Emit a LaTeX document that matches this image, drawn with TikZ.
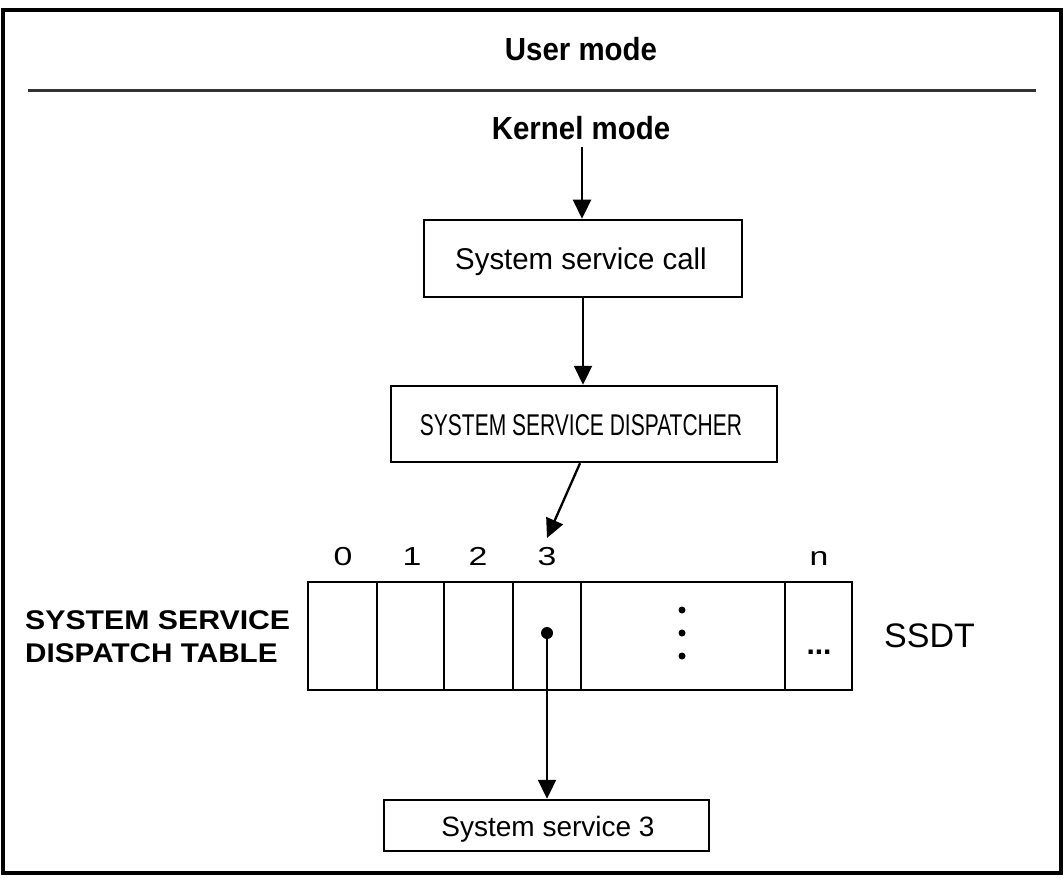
\documentclass[tikz,border=0pt]{standalone}
\usepackage{fontspec}
\usepackage{graphicx}
\setmainfont{Liberation Sans}
\usetikzlibrary{arrows.meta,calc}
\newcommand{\stretchtxt}[2]{\scalebox{#1}[1]{#2}}
\begin{document}
\begin{tikzpicture}[x=1pt,y=-1pt,
  box/.style={draw,line width=2.5pt,inner sep=0pt},
  conn/.style={line width=2.3pt,-{Triangle[length=19pt,width=18pt]}},
  lbl/.style={anchor=base,inner sep=0pt},
]
\useasboundingbox (0,0) rectangle (1064,877);
\fill[white] (0,0) rectangle (1064,877);
% outer frame
\draw[line width=4pt] (3,10) rectangle (1061,873);
% separator
\draw[line width=3pt,black!80] (28,91) -- (1036,91);

% titles
\node[lbl,font=\fontsize{32}{34}\selectfont\bfseries] (user) at (581,61) {\stretchtxt{0.92}{User mode}};
\node[lbl,font=\fontsize{32}{34}\selectfont\bfseries] (kernel) at (581,140) {\stretchtxt{0.92}{Kernel mode}};

% boxes
\node[box,minimum width=318pt,minimum height=77pt] (call) at (583,258.5) {};
\node[lbl,font=\fontsize{30}{32}\selectfont] (calltxt) at (581,269) {\stretchtxt{0.98}{System service call}};

\node[box,minimum width=386pt,minimum height=76pt] (disp) at (584,424) {};
\node[lbl,font=\fontsize{30}{32}\selectfont] (disptxt) at (581,435) {\stretchtxt{0.7}{SYSTEM SERVICE DISPATCHER}};

\node[box,minimum width=325pt,minimum height=51pt] (svc) at (546.5,825.5) {};
\node[lbl,font=\fontsize{28}{30}\selectfont] (svctxt) at (548,836) {System service 3};

% table
\draw[line width=2.5pt] (308,582) rectangle (852,690);
\foreach \xx in {377,444,513,581,785} \draw[line width=2.5pt] (\xx,582) -- (\xx,690);

% indices
\foreach \xx/\tt/\nm in {343/0/i0,412/1/i1,478/2/i2,547/3/i3,819/n/in}
  \node[lbl,font=\fontsize{26}{28}\selectfont] (\nm) at (\xx,565) {\stretchtxt{1.3}{\tt}};

% dots inside table
\foreach \yy in {610,633,656} \fill (682,\yy) circle (3.5pt);
\node[lbl,font=\fontsize{30}{32}\selectfont\bfseries] (ell) at (819,654) {...};
\node[circle,fill,inner sep=0pt,minimum size=12pt] (ptr) at (547,633) {};

% side labels
\node[lbl,anchor=base west,font=\fontsize{27}{29}\selectfont\bfseries] (ssdt1) at (25,629) {\stretchtxt{1.12}{SYSTEM SERVICE}};
\node[lbl,anchor=base west,font=\fontsize{27}{29}\selectfont\bfseries] (ssdt2) at (25,662) {\stretchtxt{1.1}{DISPATCH TABLE}};
\node[lbl,anchor=base west,font=\fontsize{34}{36}\selectfont] (ssdt) at (884,647) {SSDT};

% connectors
\coordinate (kbot) at (582,147);
\coordinate (k3) at (547,538);
\draw[conn] (kbot) -- (call.north -| kbot);
\draw[conn] (call.south) -- (disp.north -| call.south);
\draw[conn] ([xshift=-4pt]disp.south) -- (k3);
\draw[conn] (ptr.center) -- (svc.north -| ptr);
\end{tikzpicture}
\end{document}
